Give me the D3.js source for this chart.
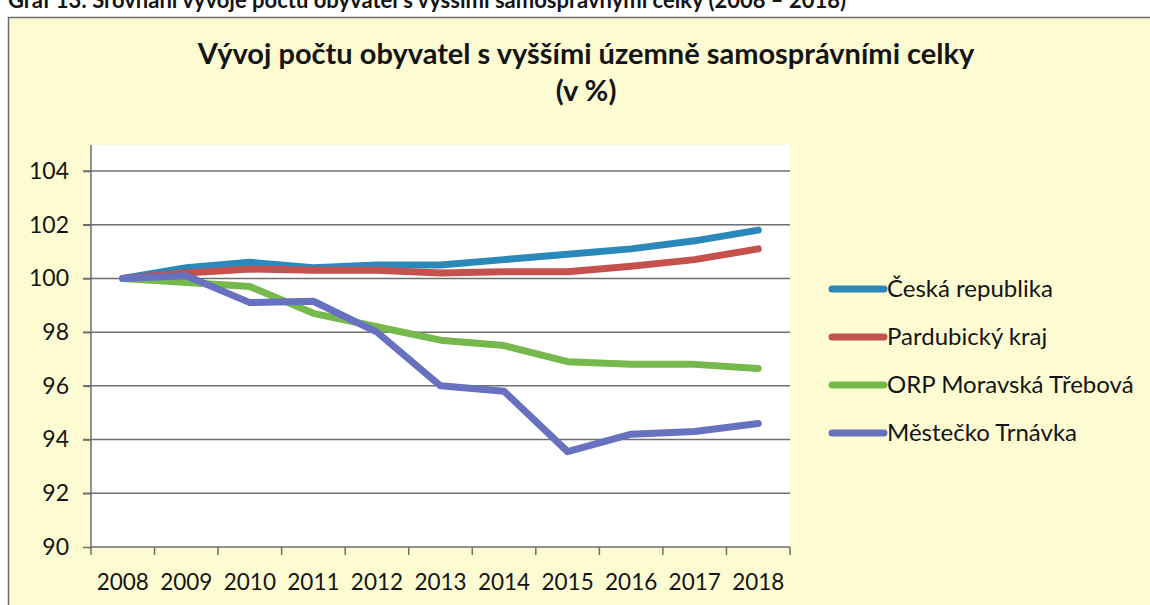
<!DOCTYPE html>
<html>
<head>
<meta charset="utf-8">
<script src="https://cdn.jsdelivr.net/npm/d3@7"></script>
<style>
  body { margin: 0; background: #fff; }
  text { font-family: Lato, "Noto Sans", sans-serif; fill: #141414; }
</style>
</head>
<body>
<div id="chart"></div>
<script>
// data
var years = ["2008", "2009", "2010", "2011", "2012", "2013", "2014", "2015", "2016", "2017", "2018"];
var seriesNames = ["Česká republika", "Pardubický kraj", "ORP Moravská Třebová", "Městečko Trnávka"];
var ceskaRepublika = [100, 100.4, 100.6, 100.4, 100.5, 100.5, 100.7, 100.9, 101.1, 101.4, 101.8];
var pardubickyKraj = [100, 100.2, 100.35, 100.3, 100.3, 100.2, 100.25, 100.25, 100.45, 100.7, 101.1];
var orpMoravska = [100, 99.85, 99.7, 98.7, 98.2, 97.7, 97.5, 96.9, 96.8, 96.8, 96.65];
var mestecko = [100, 100.1, 99.1, 99.15, 98.0, 96.0, 95.8, 93.55, 94.2, 94.3, 94.6];
var yTicks = [90, 92, 94, 96, 98, 100, 102, 104];
var colors = ["#2b88bb", "#c5504c", "#75b84b", "#6870c0"];

var allSeries = [ceskaRepublika, pardubickyKraj, orpMoravska, mestecko];

var svgWidth = 1150;
var svgHeight = 605;

var plot = { left: 91, right: 790, top: 145, bottom: 547 };

var svg = d3.select("#chart")
  .append("svg")
  .attr("width", svgWidth)
  .attr("height", svgHeight);

// outer panel
svg.append("rect")
  .attr("x", 8.5).attr("y", 17.5)
  .attr("width", svgWidth).attr("height", svgHeight)
  .attr("fill", "#fdfbd2")
  .attr("stroke", "#6b6b6b")
  .attr("stroke-width", 1.5);

// caption above the panel (its top is cut off in the scan)
svg.append("text")
  .attr("x", 8).attr("y", 8)
  .attr("font-weight", "bold")
  .attr("font-size", 22)
  .text("Graf 13: Srovnání vývoje počtu obyvatel s vyššími samosprávnými celky (2008 – 2018)");

// title
svg.append("text")
  .attr("x", 586).attr("y", 64)
  .attr("text-anchor", "middle")
  .attr("font-weight", "bold")
  .attr("font-size", 29)
  .text("Vývoj počtu obyvatel s vyššími územně samosprávními celky");
svg.append("text")
  .attr("x", 586).attr("y", 101)
  .attr("text-anchor", "middle")
  .attr("font-weight", "bold")
  .attr("font-size", 29)
  .text("(v %)");

// plot background
svg.append("rect")
  .attr("x", plot.left).attr("y", plot.top)
  .attr("width", plot.right - plot.left)
  .attr("height", plot.bottom - plot.top)
  .attr("fill", "#ffffff");

var xScale = d3.scaleBand()
  .domain(years)
  .range([plot.left, plot.right]);

var yScale = d3.scaleLinear()
  .domain([90, 104])
  .range([plot.bottom, 171]);

// gridlines
svg.append("g")
  .selectAll("line")
  .data(yTicks.slice(1))
  .enter()
  .append("line")
  .attr("x1", plot.left - 8).attr("x2", plot.right)
  .attr("y1", d => yScale(d)).attr("y2", d => yScale(d))
  .attr("stroke", "#6e6e6e")
  .attr("stroke-width", 1.5);

// y axis
var leftAxis = d3.axisLeft(yScale)
  .tickValues(yTicks)
  .tickSize(8)
  .tickPadding(14);

var yAxis = svg.append("g")
  .attr("transform", `translate(${plot.left}, 0)`)
  .call(leftAxis);
yAxis.select(".domain").remove();
yAxis.append("line")
  .attr("x1", 0).attr("x2", 0)
  .attr("y1", plot.top).attr("y2", plot.bottom)
  .attr("stroke", "#6e6e6e").attr("stroke-width", 1.5);
yAxis.selectAll(".tick line").attr("stroke", "#6e6e6e").attr("stroke-width", 1.5);
yAxis.selectAll("text")
  .attr("font-size", 23)
  .attr("font-family", "Lato, sans-serif")
  .attr("fill", "#141414");

// x axis, ticks on category boundaries
var xAxis = svg.append("g")
  .attr("transform", `translate(0, ${plot.bottom})`);
xAxis.append("line")
  .attr("x1", plot.left).attr("x2", plot.right)
  .attr("stroke", "#6e6e6e").attr("stroke-width", 1.5);
xAxis.selectAll(".xtick")
  .data(years.concat(["end"]))
  .enter()
  .append("line")
  .attr("x1", (d, i) => i < years.length ? xScale(d) : plot.right)
  .attr("x2", (d, i) => i < years.length ? xScale(d) : plot.right)
  .attr("y1", 0).attr("y2", 8)
  .attr("stroke", "#6e6e6e").attr("stroke-width", 1.5);
xAxis.selectAll(".xlabel")
  .data(years)
  .enter()
  .append("text")
  .attr("x", d => xScale(d) + xScale.bandwidth() / 2)
  .attr("y", 43)
  .attr("text-anchor", "middle")
  .attr("font-size", 22.5)
  .text(d => d);

// lines
var line = d3.line()
  .x((d, i) => xScale(years[i]) + xScale.bandwidth() / 2)
  .y(d => yScale(d));

svg.append("g")
  .selectAll("path")
  .data(allSeries)
  .enter()
  .append("path")
  .attr("d", d => line(d))
  .attr("fill", "none")
  .attr("stroke", (d, i) => colors[i])
  .attr("stroke-width", 7)
  .attr("stroke-linejoin", "round")
  .attr("stroke-linecap", "round");

// legend
var legend = svg.append("g")
  .attr("transform", "translate(832, 289)");

var legendRows = legend.selectAll("g")
  .data(seriesNames)
  .enter()
  .append("g")
  .attr("transform", (d, i) => `translate(0, ${i * 48})`);

legendRows.append("line")
  .attr("x1", 0).attr("x2", 52)
  .attr("stroke", (d, i) => colors[i])
  .attr("stroke-width", 7)
  .attr("stroke-linecap", "round");

legendRows.append("text")
  .attr("x", 55)
  .attr("y", 8)
  .attr("font-size", 24)
  .text(d => d);
</script>
</body>
</html>
